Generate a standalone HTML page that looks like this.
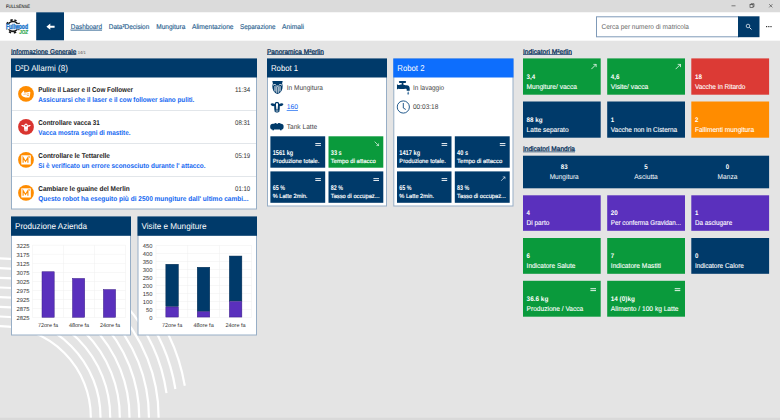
<!DOCTYPE html>
<html>
<head>
<meta charset="utf-8">
<title>FULLSENSE</title>
<style>
*{box-sizing:border-box;margin:0;padding:0}
html,body{width:780px;height:420px;overflow:hidden}
body{position:relative;background:#e4e4e4;font-family:"Liberation Sans",sans-serif;color:#222}
svg text{font-family:"Liberation Sans",sans-serif}
#cv{position:absolute;left:0;top:0;display:block}
</style>
</head>
<body>
<svg id="cv" width="780" height="420" viewBox="0 0 780 420">
<rect x="0" y="0" width="780" height="420" fill="#e4e4e4"/>
<g><g fill="none" stroke="#fff" stroke-width="2.2"><circle cx="0" cy="417" r="90.8"/><circle cx="0" cy="417" r="100.5"/><circle cx="0" cy="417" r="110.2"/><circle cx="0" cy="417" r="119.8"/><circle cx="0" cy="417" r="129.5"/><circle cx="0" cy="417" r="139.2"/><circle cx="0" cy="417" r="148.9"/><circle cx="0" cy="417" r="158.6"/><path d="M 126.0 305.6 A 168.2 168.2 0 0 1 166.5 393.2"/><path d="M 140.0 307.7 A 177.6 177.6 0 0 1 175.4 389.0"/><path d="M 140.0 292.4 A 187.4 187.4 0 0 1 184.8 385.7"/></g></g>
<rect x="0.00" y="417.70" width="780.00" height="2.30" fill="#d9d9d9"/>
<rect x="0.00" y="0.00" width="780.00" height="12.30" fill="#dbdbdb"/>
<svg x="725" y="0" width="55" height="12" viewBox="0 0 55 12"><g fill="none" stroke="#333" stroke-width=".6"><path d="M6.5 5.8h4"/><rect x="25" y="4.6" width="3" height="3"/><path d="M26 4.6v-.9h3v3h-1"/><path d="M44.2 4.2l3.2 3.2M47.4 4.2l-3.2 3.2"/></g></svg>
<rect x="0.00" y="12.30" width="780.00" height="28.40" fill="#fff"/>
<svg x="2" y="14" width="32" height="24" viewBox="0 0 32 24">
<circle cx="11" cy="12.4" r="4.9" fill="none" stroke="#161616" stroke-width="1.7"/>
<circle cx="11" cy="12.4" r="6.5" fill="none" stroke="#161616" stroke-width="1.7" stroke-dasharray="2.3 2.805" transform="rotate(12.3 11 12.4) rotate(-90 11 12.4)"/>
<rect x="3" y="9.9" width="24" height="5.4" fill="#fff"/>
<text x="4" y="14.7" font-size="6.6" font-weight="bold" fill="#1f78cc" stroke="#1f78cc" stroke-width=".4" textLength="22" lengthAdjust="spacingAndGlyphs">Fullwood</text>
<text x="17.2" y="19.6" font-size="5.4" font-weight="bold" font-style="italic" fill="#2fa84f" stroke="#2fa84f" stroke-width=".2" textLength="8.8" lengthAdjust="spacingAndGlyphs">JOZ</text></svg>
<rect x="36.20" y="12.30" width="27.80" height="28.00" fill="#003a6a"/>
<svg x="45.4" y="22.2" width="10" height="9" viewBox="0 0 10 9"><path d="M1 4.5 L4.9 1.4 V3.5 H9.2 V5.5 H4.9 V7.6 Z" fill="#fff"/></svg>
<rect x="596.50" y="16.80" width="142.00" height="20.00" fill="#fff" stroke="#7f9ab8" stroke-width="1"/>
<rect x="738.00" y="16.30" width="21.50" height="20.90" fill="#003a6a"/>
<svg x="745" y="23" width="8" height="8" viewBox="0 0 8 8"><circle cx="3" cy="3" r="1.8" fill="none" stroke="#e8eef4" stroke-width=".75"/><path d="M4.4 4.4L6.5 6.5" stroke="#e8eef4" stroke-width="1"/></svg>
<rect x="766.00" y="26.00" width="1.20" height="1.20" fill="#333"/>
<rect x="768.20" y="26.00" width="1.20" height="1.20" fill="#333"/>
<rect x="770.40" y="26.00" width="1.20" height="1.20" fill="#333"/>
<rect x="11.00" y="54.15" width="65.30" height="0.70" fill="#0d3a66"/>
<rect x="267.00" y="54.15" width="56.80" height="0.70" fill="#0d3a66"/>
<rect x="523.00" y="54.15" width="49.00" height="0.70" fill="#0d3a66"/>
<rect x="523.00" y="151.55" width="52.00" height="0.70" fill="#0d3a66"/>
<rect x="11.50" y="59.00" width="245.00" height="150.00" fill="#fff" stroke="#97aec6" stroke-width="1"/>
<rect x="11.00" y="58.50" width="246.00" height="19.00" fill="#003a6a"/>
<rect x="12.00" y="110.00" width="244.00" height="1.00" fill="#e2e6ea"/>
<rect x="12.00" y="143.00" width="244.00" height="1.00" fill="#e2e6ea"/>
<rect x="12.00" y="176.00" width="244.00" height="1.00" fill="#e2e6ea"/>
<svg x="18" y="85.9" width="16" height="16" viewBox="0 0 16 16"><circle cx="8" cy="8" r="7.9" fill="#ff8c00"/>
<path d="M3.6 7.2C4.4 6.2 5 5.4 5.6 4.8C6 4.6 6.3 4.9 6.2 5.4L5.9 6.6C7.6 6.8 9.4 6.6 11.2 5.9C11.9 5.7 12.4 6.1 12.3 6.8C12.2 8.6 11.9 10.2 11.4 11.5C9.6 11.8 7.4 11.6 5.4 10.8C4.2 10.3 3.4 9.4 3.2 8.4C3.2 7.9 3.3 7.5 3.6 7.2Z" fill="#fff"/>
<path d="M5.6 8.6C6.6 8 7.6 8 8.4 8.4M8.8 9.8C9.6 9.4 10.4 9.4 11 9.6M8.8 8.2C9.6 7.8 10.6 7.8 11.2 8" stroke="#ff8c00" stroke-width=".6" fill="none"/></svg>
<svg x="18" y="118.9" width="16" height="16" viewBox="0 0 16 16"><circle cx="8" cy="8" r="7.9" fill="#d9342f"/>
<path d="M3.2 6.4C4.2 5.9 5.2 6.1 6.2 6.6C6.5 5.3 7.1 4.6 8 4.6C8.9 4.6 9.5 5.3 9.8 6.6C10.8 6.1 11.8 5.9 12.8 6.4C12.4 7.5 11.2 8 10 7.8C10 9.4 9.8 10.8 9.5 12C9 12.6 7 12.6 6.5 12C6.2 10.8 6 9.4 6 7.8C4.8 8 3.6 7.5 3.2 6.4Z" fill="#fff"/>
<circle cx="8" cy="6.7" r=".9" fill="#d9342f"/><path d="M7.2 11.2H8.8" stroke="#d9342f" stroke-width=".5"/></svg>
<svg x="18" y="151.9" width="16" height="16" viewBox="0 0 16 16"><circle cx="8" cy="8" r="7.9" fill="#ff8c00"/><rect x="3.3" y="3.4" width="9.5" height="9.2" fill="#fff"/>
<path d="M5.1 10.9V5.6L7.5 9.6L9.9 5.6V10.9" fill="none" stroke="#ff8c00" stroke-width="1.15"/><rect x="10.9" y="4.4" width=".9" height="1.4" fill="#ff8c00"/></svg>
<svg x="18" y="184.9" width="16" height="16" viewBox="0 0 16 16"><circle cx="8" cy="8" r="7.9" fill="#ff8c00"/><rect x="3.3" y="3.4" width="9.5" height="9.2" fill="#fff"/>
<path d="M5.1 10.9V5.6L7.5 9.6L9.9 5.6V10.9" fill="none" stroke="#ff8c00" stroke-width="1.15"/><rect x="10.9" y="4.4" width=".9" height="1.4" fill="#ff8c00"/></svg>
<rect x="11.50" y="217.00" width="119.00" height="118.00" fill="#fff" stroke="#97aec6" stroke-width="1"/>
<rect x="11.00" y="216.50" width="120.00" height="19.30" fill="#003a6a"/>
<rect x="138.00" y="217.00" width="118.50" height="118.00" fill="#fff" stroke="#97aec6" stroke-width="1"/>
<rect x="137.50" y="216.50" width="119.50" height="19.30" fill="#003a6a"/>
<rect x="32.50" y="244.85" width="93.00" height="0.50" fill="#efefef"/>
<rect x="32.50" y="253.90" width="93.00" height="0.50" fill="#efefef"/>
<rect x="32.50" y="262.95" width="93.00" height="0.50" fill="#efefef"/>
<rect x="32.50" y="272.00" width="93.00" height="0.50" fill="#efefef"/>
<rect x="32.50" y="281.05" width="93.00" height="0.50" fill="#efefef"/>
<rect x="32.50" y="290.10" width="93.00" height="0.50" fill="#efefef"/>
<rect x="32.50" y="299.15" width="93.00" height="0.50" fill="#efefef"/>
<rect x="32.50" y="308.20" width="93.00" height="0.50" fill="#efefef"/>
<rect x="32.50" y="317.25" width="93.00" height="0.50" fill="#efefef"/>
<rect x="32.25" y="245.10" width="0.50" height="72.40" fill="#efefef"/>
<rect x="63.25" y="245.10" width="0.50" height="72.40" fill="#efefef"/>
<rect x="94.25" y="245.10" width="0.50" height="72.40" fill="#efefef"/>
<rect x="125.25" y="245.10" width="0.50" height="72.40" fill="#efefef"/>
<rect x="42.00" y="271.75" width="12.20" height="45.50" fill="#5a30bd" stroke="#3a1d86" stroke-width="0.5"/>
<rect x="72.50" y="278.45" width="12.20" height="38.80" fill="#5a30bd" stroke="#3a1d86" stroke-width="0.5"/>
<rect x="103.40" y="289.55" width="12.20" height="27.70" fill="#5a30bd" stroke="#3a1d86" stroke-width="0.5"/>
<rect x="156.00" y="245.05" width="95.50" height="0.50" fill="#efefef"/>
<rect x="156.00" y="253.05" width="95.50" height="0.50" fill="#efefef"/>
<rect x="156.00" y="261.05" width="95.50" height="0.50" fill="#efefef"/>
<rect x="156.00" y="269.05" width="95.50" height="0.50" fill="#efefef"/>
<rect x="156.00" y="277.05" width="95.50" height="0.50" fill="#efefef"/>
<rect x="156.00" y="285.05" width="95.50" height="0.50" fill="#efefef"/>
<rect x="156.00" y="293.05" width="95.50" height="0.50" fill="#efefef"/>
<rect x="156.00" y="301.05" width="95.50" height="0.50" fill="#efefef"/>
<rect x="156.00" y="309.05" width="95.50" height="0.50" fill="#efefef"/>
<rect x="156.00" y="317.05" width="95.50" height="0.50" fill="#efefef"/>
<rect x="155.75" y="245.30" width="0.50" height="72.00" fill="#efefef"/>
<rect x="187.58" y="245.30" width="0.50" height="72.00" fill="#efefef"/>
<rect x="219.42" y="245.30" width="0.50" height="72.00" fill="#efefef"/>
<rect x="251.25" y="245.30" width="0.50" height="72.00" fill="#efefef"/>
<rect x="165.85" y="264.25" width="12.50" height="42.20" fill="#003a6a" stroke="#002a50" stroke-width="0.5"/>
<rect x="165.85" y="306.95" width="12.50" height="10.10" fill="#5a30bd" stroke="#3a1d86" stroke-width="0.5"/>
<rect x="197.25" y="267.25" width="12.50" height="44.00" fill="#003a6a" stroke="#002a50" stroke-width="0.5"/>
<rect x="197.25" y="311.75" width="12.50" height="5.30" fill="#5a30bd" stroke="#3a1d86" stroke-width="0.5"/>
<rect x="229.35" y="256.05" width="12.50" height="44.90" fill="#003a6a" stroke="#002a50" stroke-width="0.5"/>
<rect x="229.35" y="301.45" width="12.50" height="15.60" fill="#5a30bd" stroke="#3a1d86" stroke-width="0.5"/>
<rect x="267.50" y="59.00" width="119.00" height="147.00" fill="#fff" stroke="#97aec6" stroke-width="1"/>
<rect x="267.00" y="58.50" width="120.00" height="19.00" fill="#003a6a"/>
<rect x="393.80" y="59.00" width="119.20" height="147.00" fill="#fff" stroke="#97aec6" stroke-width="1"/>
<rect x="393.30" y="58.50" width="120.20" height="19.00" fill="#0d6efd"/>
<svg x="271.5" y="80.5" width="12" height="14" viewBox="0 0 12 14">
<path d="M.8 .6H11.2L10.6 3.1C11.2 4.6 11.3 6.2 10.9 8C10.3 10.8 8.6 12.8 6 13.6C3.4 12.8 1.7 10.8 1.1 8C.7 6.2 .8 4.6 1.4 3.1Z" fill="#003a6a"/>
<path d="M1.5 4.9C2.5 3.7 3.7 3.7 4.7 4.9M7.3 4.9C8.3 3.7 9.5 3.7 10.5 4.9" fill="none" stroke="#fff" stroke-width="1"/>
<path d="M3.5 5.6V11M8.5 5.6V11" fill="none" stroke="#fff" stroke-width="1"/>
<path d="M5.2 6.2V12.3M6.8 6.2V12.3" fill="none" stroke="#fff" stroke-width=".8"/>
<path d="M4.9 5.6H7.1" stroke="#fff" stroke-width="1"/></svg>
<svg x="270.3" y="101.5" width="13.4" height="11.4" viewBox="0 0 13.4 11.4">
<path d="M.2 2.6C1 1.5 2.8 1.6 4.3 2.4C4.7 1 5.6 .2 6.7 .2C7.8 .2 8.7 1 9.1 2.4C10.6 1.6 12.4 1.5 13.2 2.6C12.8 4.3 11 5 9.5 4.6C9.6 6.6 9.4 8.6 9 10.3C8.2 11.3 5.2 11.3 4.4 10.3C4 8.6 3.8 6.6 3.9 4.6C2.4 5 .6 4.3 .2 2.6Z" fill="#003a6a"/>
<path d="M6.7 1.5C7.5 1.5 7.8 2.4 7.7 3.4C7.6 5 7.4 6.4 7.3 7.9H6.1C6 6.4 5.8 5 5.7 3.4C5.6 2.4 5.9 1.5 6.7 1.5Z" fill="#fff"/>
<path d="M5.4 9.5H8" stroke="#fff" stroke-width=".8"/></svg>
<svg x="270" y="122.9" width="14" height="8" viewBox="0 0 14 8">
<rect x=".2" y=".8" width="13.4" height="5.8" rx="2.6" fill="#003a6a"/><rect x="4.6" y=".2" width="1.8" height="1" fill="#003a6a"/><rect x="8" y=".2" width="2.4" height="1" fill="#003a6a"/>
<rect x="2.4" y="6" width="1.6" height="1.4" fill="#003a6a"/><rect x="10" y="6" width="1.6" height="1.4" fill="#003a6a"/></svg>
<svg x="396.7" y="80.9" width="14" height="14" viewBox="0 0 14 14">
<rect x="2.4" y=".2" width="6.8" height="1.8" rx=".3" fill="#003a6a"/><rect x="5" y="1.6" width="1.7" height="3" fill="#003a6a"/>
<path d="M.2 3.4L1.6 4.2C3 4 4 3.4 5.8 3.6C7.4 3.8 8.4 4.4 10 4.4C12.2 4.4 13 5.8 13 7.6V9.8H10V8.6C10 8 9.6 7.8 9 7.8C6.6 8 4 8.2 1.6 7.8L.2 8.6Z" fill="#003a6a"/>
<path d="M11.5 10.3C12.2 11.5 12.4 12.3 12.4 12.8A.9 .9 0 0 1 10.6 12.8C10.6 12.3 10.8 11.5 11.5 10.3Z" fill="#4f7ea8"/></svg>
<svg x="396.3" y="100" width="14" height="14" viewBox="0 0 14 14">
<circle cx="7" cy="7" r="6.1" fill="none" stroke="#245b8d" stroke-width="1"/><path d="M7 3V8L9.5 9.5" fill="none" stroke="#245b8d" stroke-width="1"/></svg>
<rect x="270.40" y="136.30" width="54.80" height="31.40" fill="#003a6a"/>
<rect x="315.30" y="143.00" width="5.60" height="1.00" fill="#fff" fill-opacity=".88"/>
<rect x="315.30" y="144.90" width="5.60" height="1.00" fill="#fff" fill-opacity=".88"/>
<rect x="328.50" y="136.30" width="54.80" height="31.40" fill="#0a9a3c"/>
<svg x="374.1" y="141.1" width="5.2" height="5.2" viewBox="0 0 6 6"><path d="M.6 .6L5.2 5.2M2.6 5.3H5.3V2.6" fill="none" stroke="#fff" stroke-width=".75"/></svg>
<rect x="270.40" y="171.40" width="54.80" height="31.40" fill="#003a6a"/>
<rect x="315.30" y="178.10" width="5.60" height="1.00" fill="#fff" fill-opacity=".88"/>
<rect x="315.30" y="180.00" width="5.60" height="1.00" fill="#fff" fill-opacity=".88"/>
<rect x="328.50" y="171.40" width="54.80" height="31.40" fill="#003a6a"/>
<rect x="373.40" y="178.10" width="5.60" height="1.00" fill="#fff" fill-opacity=".88"/>
<rect x="373.40" y="180.00" width="5.60" height="1.00" fill="#fff" fill-opacity=".88"/>
<rect x="397.00" y="136.30" width="54.50" height="31.40" fill="#003a6a"/>
<rect x="441.60" y="143.00" width="5.60" height="1.00" fill="#fff" fill-opacity=".88"/>
<rect x="441.60" y="144.90" width="5.60" height="1.00" fill="#fff" fill-opacity=".88"/>
<rect x="454.80" y="136.30" width="54.90" height="31.40" fill="#003a6a"/>
<rect x="499.80" y="143.00" width="5.60" height="1.00" fill="#fff" fill-opacity=".88"/>
<rect x="499.80" y="144.90" width="5.60" height="1.00" fill="#fff" fill-opacity=".88"/>
<rect x="397.00" y="171.40" width="54.50" height="31.40" fill="#003a6a"/>
<rect x="441.60" y="178.10" width="5.60" height="1.00" fill="#fff" fill-opacity=".88"/>
<rect x="441.60" y="180.00" width="5.60" height="1.00" fill="#fff" fill-opacity=".88"/>
<rect x="454.80" y="171.40" width="54.90" height="31.40" fill="#003a6a"/>
<svg x="500.5" y="176.2" width="5.2" height="5.2" viewBox="0 0 6 6"><path d="M.6 5.4L5.2 .8M2.6 .7H5.3V3.4" fill="none" stroke="#fff" stroke-width=".75"/></svg>
<rect x="523.00" y="58.40" width="77.70" height="36.30" fill="#0a9a3c"/>
<svg x="590.7" y="63.6" width="6.2" height="6.2" viewBox="0 0 6 6"><path d="M.6 5.4L5.2 .8M2.6 .7H5.3V3.4" fill="none" stroke="#fff" stroke-width=".75"/></svg>
<rect x="607.20" y="58.40" width="77.80" height="36.30" fill="#0a9a3c"/>
<svg x="675.0" y="63.6" width="6.2" height="6.2" viewBox="0 0 6 6"><path d="M.6 5.4L5.2 .8M2.6 .7H5.3V3.4" fill="none" stroke="#fff" stroke-width=".75"/></svg>
<rect x="691.30" y="58.40" width="77.80" height="36.30" fill="#dc3a35"/>
<rect x="523.00" y="101.50" width="77.70" height="36.20" fill="#003a6a"/>
<rect x="607.20" y="101.50" width="77.80" height="36.20" fill="#003a6a"/>
<rect x="691.30" y="101.50" width="77.80" height="36.20" fill="#ff8c00"/>
<rect x="523.00" y="155.70" width="246.10" height="32.60" fill="#003a6a"/>
<rect x="523.00" y="195.30" width="77.70" height="35.50" fill="#5a30bd"/>
<rect x="607.20" y="195.30" width="77.80" height="35.50" fill="#5a30bd"/>
<rect x="691.30" y="195.30" width="77.80" height="35.50" fill="#5a30bd"/>
<rect x="523.00" y="238.00" width="77.70" height="35.80" fill="#0a9a3c"/>
<rect x="607.20" y="238.00" width="77.80" height="35.80" fill="#0a9a3c"/>
<rect x="691.30" y="238.00" width="77.80" height="35.80" fill="#003a6a"/>
<rect x="523.00" y="280.80" width="77.70" height="35.90" fill="#0a9a3c"/>
<rect x="590.40" y="288.20" width="5.60" height="1.00" fill="#fff" fill-opacity=".88"/>
<rect x="590.40" y="290.10" width="5.60" height="1.00" fill="#fff" fill-opacity=".88"/>
<rect x="607.20" y="280.80" width="77.80" height="35.90" fill="#0a9a3c"/>
<rect x="674.70" y="288.20" width="5.60" height="1.00" fill="#fff" fill-opacity=".88"/>
<rect x="674.70" y="290.10" width="5.60" height="1.00" fill="#fff" fill-opacity=".88"/>
<g id="tx" text-rendering="geometricPrecision">
<text x="6.00" y="8.00" font-size="4.6" fill="#222" textLength="24.00" lengthAdjust="spacingAndGlyphs" stroke="#222" stroke-width=".08">FULLSENSE</text>
<text x="70.80" y="28.80" font-size="7.0" fill="#2a5f8f" text-decoration="underline" textLength="31.20" lengthAdjust="spacingAndGlyphs" stroke="#2a5f8f" stroke-width=".15">Dashboard</text>
<text x="108.80" y="28.80" font-size="7.0" fill="#2a5f8f" textLength="40.50" lengthAdjust="spacingAndGlyphs" stroke="#2a5f8f" stroke-width=".15">Data²Decision</text>
<text x="156.30" y="28.80" font-size="7.0" fill="#2a5f8f" textLength="29.00" lengthAdjust="spacingAndGlyphs" stroke="#2a5f8f" stroke-width=".15">Mungitura</text>
<text x="192.00" y="28.80" font-size="7.0" fill="#2a5f8f" textLength="41.50" lengthAdjust="spacingAndGlyphs" stroke="#2a5f8f" stroke-width=".15">Alimentazione</text>
<text x="240.00" y="28.80" font-size="7.0" fill="#2a5f8f" textLength="35.50" lengthAdjust="spacingAndGlyphs" stroke="#2a5f8f" stroke-width=".15">Separazione</text>
<text x="282.00" y="28.80" font-size="7.0" fill="#2a5f8f" textLength="22.00" lengthAdjust="spacingAndGlyphs" stroke="#2a5f8f" stroke-width=".15">Animali</text>
<text x="601.50" y="28.60" font-size="6.9" fill="#666" textLength="87.50" lengthAdjust="spacingAndGlyphs">Cerca per numero di matricola</text>
<text x="11.00" y="53.70" font-size="6.8" fill="#0a335c" textLength="65.30" lengthAdjust="spacingAndGlyphs" stroke="#0a335c" stroke-width=".3">Informazione Generale</text>
<text x="77.80" y="53.80" font-size="4.4" fill="#4a4a4a" textLength="8.00" lengthAdjust="spacingAndGlyphs">14/1</text>
<text x="267.00" y="53.70" font-size="6.8" fill="#0a335c" textLength="56.80" lengthAdjust="spacingAndGlyphs" stroke="#0a335c" stroke-width=".3">Panoramica M²erlin</text>
<text x="523.00" y="53.70" font-size="6.8" fill="#0a335c" textLength="49.00" lengthAdjust="spacingAndGlyphs" stroke="#0a335c" stroke-width=".3">Indicatori M²erlin</text>
<text x="523.00" y="151.10" font-size="6.8" fill="#0a335c" textLength="52.00" lengthAdjust="spacingAndGlyphs" stroke="#0a335c" stroke-width=".3">Indicatori Mandria</text>
<text x="15.00" y="71.10" font-size="8.5" fill="#fff" textLength="53.00" lengthAdjust="spacingAndGlyphs">D²D Allarmi (8)</text>
<text x="38.30" y="92.00" font-size="7.0" fill="#222" font-weight="bold" textLength="94.70" lengthAdjust="spacingAndGlyphs">Pulire il Laser e il Cow Follower</text>
<text x="38.30" y="102.00" font-size="7.0" fill="#1266f1" font-weight="bold" textLength="156.00" lengthAdjust="spacingAndGlyphs">Assicurarsi che il laser e il cow follower siano puliti.</text>
<text x="250.20" y="92.00" font-size="6.8" fill="#333" text-anchor="end" textLength="15.10" lengthAdjust="spacingAndGlyphs">11:34</text>
<text x="38.30" y="125.00" font-size="7.0" fill="#222" font-weight="bold" textLength="61.50" lengthAdjust="spacingAndGlyphs">Controllare vacca 31</text>
<text x="38.30" y="135.00" font-size="7.0" fill="#1266f1" font-weight="bold" textLength="92.20" lengthAdjust="spacingAndGlyphs">Vacca mostra segni di mastite.</text>
<text x="250.20" y="125.00" font-size="6.8" fill="#333" text-anchor="end" textLength="15.10" lengthAdjust="spacingAndGlyphs">08:31</text>
<text x="38.30" y="158.00" font-size="7.0" fill="#222" font-weight="bold" textLength="71.60" lengthAdjust="spacingAndGlyphs">Controllare le Tettarelle</text>
<text x="38.30" y="168.00" font-size="7.0" fill="#1266f1" font-weight="bold" textLength="167.20" lengthAdjust="spacingAndGlyphs">Si è verificato un errore sconosciuto durante l' attacco.</text>
<text x="250.20" y="158.00" font-size="6.8" fill="#333" text-anchor="end" textLength="15.10" lengthAdjust="spacingAndGlyphs">05:19</text>
<text x="38.30" y="191.00" font-size="7.0" fill="#222" font-weight="bold" textLength="91.40" lengthAdjust="spacingAndGlyphs">Cambiare le guaine del Merlin</text>
<text x="38.30" y="201.00" font-size="7.0" fill="#1266f1" font-weight="bold" textLength="210.20" lengthAdjust="spacingAndGlyphs">Questo robot ha eseguito più di 2500 mungiture dall' ultimo cambi...</text>
<text x="250.20" y="191.00" font-size="6.8" fill="#333" text-anchor="end" textLength="15.10" lengthAdjust="spacingAndGlyphs">01:10</text>
<text x="15.00" y="229.10" font-size="8.5" fill="#fff" textLength="72.00" lengthAdjust="spacingAndGlyphs">Produzione Azienda</text>
<text x="141.50" y="229.10" font-size="8.5" fill="#fff" textLength="65.00" lengthAdjust="spacingAndGlyphs">Visite e Mungiture</text>
<text x="29.40" y="247.50" font-size="5.7" fill="#333" text-anchor="end" textLength="12.90" lengthAdjust="spacingAndGlyphs">3225</text>
<text x="29.40" y="256.55" font-size="5.7" fill="#333" text-anchor="end" textLength="12.90" lengthAdjust="spacingAndGlyphs">3175</text>
<text x="29.40" y="265.60" font-size="5.7" fill="#333" text-anchor="end" textLength="12.90" lengthAdjust="spacingAndGlyphs">3125</text>
<text x="29.40" y="274.65" font-size="5.7" fill="#333" text-anchor="end" textLength="12.90" lengthAdjust="spacingAndGlyphs">3075</text>
<text x="29.40" y="283.70" font-size="5.7" fill="#333" text-anchor="end" textLength="12.90" lengthAdjust="spacingAndGlyphs">3025</text>
<text x="29.40" y="292.75" font-size="5.7" fill="#333" text-anchor="end" textLength="12.90" lengthAdjust="spacingAndGlyphs">2975</text>
<text x="29.40" y="301.80" font-size="5.7" fill="#333" text-anchor="end" textLength="12.90" lengthAdjust="spacingAndGlyphs">2925</text>
<text x="29.40" y="310.85" font-size="5.7" fill="#333" text-anchor="end" textLength="12.90" lengthAdjust="spacingAndGlyphs">2875</text>
<text x="29.40" y="319.90" font-size="5.7" fill="#333" text-anchor="end" textLength="12.90" lengthAdjust="spacingAndGlyphs">2825</text>
<text x="48.00" y="327.00" font-size="5.6" fill="#333" text-anchor="middle" textLength="20.20" lengthAdjust="spacingAndGlyphs">72ore fa</text>
<text x="79.00" y="327.00" font-size="5.6" fill="#333" text-anchor="middle" textLength="20.20" lengthAdjust="spacingAndGlyphs">48ore fa</text>
<text x="110.00" y="327.00" font-size="5.6" fill="#333" text-anchor="middle" textLength="20.20" lengthAdjust="spacingAndGlyphs">24ore fa</text>
<text x="152.40" y="247.80" font-size="5.7" fill="#333" text-anchor="end" textLength="9.66" lengthAdjust="spacingAndGlyphs">450</text>
<text x="152.40" y="255.80" font-size="5.7" fill="#333" text-anchor="end" textLength="9.66" lengthAdjust="spacingAndGlyphs">400</text>
<text x="152.40" y="263.80" font-size="5.7" fill="#333" text-anchor="end" textLength="9.66" lengthAdjust="spacingAndGlyphs">350</text>
<text x="152.40" y="271.80" font-size="5.7" fill="#333" text-anchor="end" textLength="9.66" lengthAdjust="spacingAndGlyphs">300</text>
<text x="152.40" y="279.80" font-size="5.7" fill="#333" text-anchor="end" textLength="9.66" lengthAdjust="spacingAndGlyphs">250</text>
<text x="152.40" y="287.80" font-size="5.7" fill="#333" text-anchor="end" textLength="9.66" lengthAdjust="spacingAndGlyphs">200</text>
<text x="152.40" y="295.80" font-size="5.7" fill="#333" text-anchor="end" textLength="9.66" lengthAdjust="spacingAndGlyphs">150</text>
<text x="152.40" y="303.80" font-size="5.7" fill="#333" text-anchor="end" textLength="9.66" lengthAdjust="spacingAndGlyphs">100</text>
<text x="152.40" y="311.80" font-size="5.7" fill="#333" text-anchor="end" textLength="6.44" lengthAdjust="spacingAndGlyphs">50</text>
<text x="152.40" y="319.80" font-size="5.7" fill="#333" text-anchor="end" textLength="3.22" lengthAdjust="spacingAndGlyphs">0</text>
<text x="172.10" y="327.00" font-size="5.6" fill="#333" text-anchor="middle" textLength="20.20" lengthAdjust="spacingAndGlyphs">72ore fa</text>
<text x="203.60" y="327.00" font-size="5.6" fill="#333" text-anchor="middle" textLength="20.20" lengthAdjust="spacingAndGlyphs">48ore fa</text>
<text x="235.50" y="327.00" font-size="5.6" fill="#333" text-anchor="middle" textLength="20.20" lengthAdjust="spacingAndGlyphs">24ore fa</text>
<text x="271.00" y="71.10" font-size="8.5" fill="#fff" textLength="27.20" lengthAdjust="spacingAndGlyphs">Robot 1</text>
<text x="397.30" y="71.10" font-size="8.5" fill="#fff" textLength="27.20" lengthAdjust="spacingAndGlyphs">Robot 2</text>
<text x="286.70" y="90.00" font-size="6.9" fill="#444" textLength="36.30" lengthAdjust="spacingAndGlyphs">In Mungitura</text>
<text x="286.70" y="109.20" font-size="6.9" fill="#1266f1" text-decoration="underline" textLength="11.30" lengthAdjust="spacingAndGlyphs">160</text>
<text x="286.70" y="128.80" font-size="6.9" fill="#444" textLength="30.50" lengthAdjust="spacingAndGlyphs">Tank Latte</text>
<text x="413.00" y="90.00" font-size="6.9" fill="#444" textLength="31.20" lengthAdjust="spacingAndGlyphs">In lavaggio</text>
<text x="413.00" y="109.20" font-size="6.9" fill="#444" textLength="25.30" lengthAdjust="spacingAndGlyphs">00:03:18</text>
<text x="272.70" y="155.10" font-size="6.8" fill="#fff" font-weight="bold" textLength="20.50" lengthAdjust="spacingAndGlyphs">1561 kg</text>
<text x="272.70" y="163.20" font-size="6.0" fill="#fff" textLength="46.70" lengthAdjust="spacingAndGlyphs" stroke="#fff" stroke-width=".16">Produzione totale.</text>
<text x="330.80" y="155.10" font-size="6.8" fill="#fff" font-weight="bold" textLength="10.90" lengthAdjust="spacingAndGlyphs">33 s</text>
<text x="330.80" y="163.20" font-size="6.0" fill="#fff" textLength="45.00" lengthAdjust="spacingAndGlyphs" stroke="#fff" stroke-width=".16">Tempo di attacco</text>
<text x="272.70" y="190.20" font-size="6.8" fill="#fff" font-weight="bold" textLength="12.20" lengthAdjust="spacingAndGlyphs">65 %</text>
<text x="272.70" y="198.30" font-size="6.0" fill="#fff" textLength="34.70" lengthAdjust="spacingAndGlyphs" stroke="#fff" stroke-width=".16">% Latte 2min.</text>
<text x="330.80" y="190.20" font-size="6.8" fill="#fff" font-weight="bold" textLength="12.20" lengthAdjust="spacingAndGlyphs">82 %</text>
<text x="330.80" y="198.30" font-size="6.0" fill="#fff" textLength="48.70" lengthAdjust="spacingAndGlyphs" stroke="#fff" stroke-width=".16">Tasso di occupaz...</text>
<text x="399.30" y="155.10" font-size="6.8" fill="#fff" font-weight="bold" textLength="20.80" lengthAdjust="spacingAndGlyphs">1417 kg</text>
<text x="399.30" y="163.20" font-size="6.0" fill="#fff" textLength="46.60" lengthAdjust="spacingAndGlyphs" stroke="#fff" stroke-width=".16">Produzione totale.</text>
<text x="457.10" y="155.10" font-size="6.8" fill="#fff" font-weight="bold" textLength="10.90" lengthAdjust="spacingAndGlyphs">40 s</text>
<text x="457.10" y="163.20" font-size="6.0" fill="#fff" textLength="45.20" lengthAdjust="spacingAndGlyphs" stroke="#fff" stroke-width=".16">Tempo di attacco</text>
<text x="399.30" y="190.20" font-size="6.8" fill="#fff" font-weight="bold" textLength="12.20" lengthAdjust="spacingAndGlyphs">65 %</text>
<text x="399.30" y="198.30" font-size="6.0" fill="#fff" textLength="34.70" lengthAdjust="spacingAndGlyphs" stroke="#fff" stroke-width=".16">% Latte 2min.</text>
<text x="457.10" y="190.20" font-size="6.8" fill="#fff" font-weight="bold" textLength="12.20" lengthAdjust="spacingAndGlyphs">83 %</text>
<text x="457.10" y="198.30" font-size="6.0" fill="#fff" textLength="48.80" lengthAdjust="spacingAndGlyphs" stroke="#fff" stroke-width=".16">Tasso di occupaz...</text>
<text x="526.60" y="78.80" font-size="6.7" fill="#fff" font-weight="bold" textLength="8.60" lengthAdjust="spacingAndGlyphs">3,4</text>
<text x="526.60" y="88.90" font-size="6.9" fill="#fff" textLength="50.30" lengthAdjust="spacingAndGlyphs" stroke="#fff" stroke-width=".1">Mungiture/ vacca</text>
<text x="610.80" y="78.80" font-size="6.7" fill="#fff" font-weight="bold" textLength="8.60" lengthAdjust="spacingAndGlyphs">4,6</text>
<text x="610.80" y="88.90" font-size="6.9" fill="#fff" textLength="37.50" lengthAdjust="spacingAndGlyphs" stroke="#fff" stroke-width=".1">Visite/ vacca</text>
<text x="694.90" y="78.80" font-size="6.7" fill="#fff" font-weight="bold" textLength="7.00" lengthAdjust="spacingAndGlyphs">18</text>
<text x="694.90" y="88.90" font-size="6.9" fill="#fff" textLength="50.50" lengthAdjust="spacingAndGlyphs" stroke="#fff" stroke-width=".1">Vacche in Ritardo</text>
<text x="526.60" y="121.90" font-size="6.7" fill="#fff" font-weight="bold" textLength="16.00" lengthAdjust="spacingAndGlyphs">88 kg</text>
<text x="526.60" y="132.00" font-size="6.9" fill="#fff" textLength="42.00" lengthAdjust="spacingAndGlyphs" stroke="#fff" stroke-width=".1">Latte separato</text>
<text x="610.80" y="121.90" font-size="6.7" fill="#fff" font-weight="bold" textLength="3.40" lengthAdjust="spacingAndGlyphs">1</text>
<text x="610.80" y="132.00" font-size="6.9" fill="#fff" textLength="66.30" lengthAdjust="spacingAndGlyphs" stroke="#fff" stroke-width=".1">Vacche non in Cisterna</text>
<text x="694.90" y="121.90" font-size="6.7" fill="#fff" font-weight="bold" textLength="3.40" lengthAdjust="spacingAndGlyphs">2</text>
<text x="694.90" y="132.00" font-size="6.9" fill="#fff" textLength="59.20" lengthAdjust="spacingAndGlyphs" stroke="#fff" stroke-width=".1">Fallimenti mungitura</text>
<text x="564.20" y="169.30" font-size="6.7" fill="#fff" font-weight="bold" text-anchor="middle" textLength="6.80" lengthAdjust="spacingAndGlyphs">83</text>
<text x="564.20" y="178.80" font-size="7.0" fill="#fff" text-anchor="middle" textLength="29.10" lengthAdjust="spacingAndGlyphs">Mungitura</text>
<text x="646.00" y="169.30" font-size="6.7" fill="#fff" font-weight="bold" text-anchor="middle" textLength="3.40" lengthAdjust="spacingAndGlyphs">5</text>
<text x="646.00" y="178.80" font-size="7.0" fill="#fff" text-anchor="middle" textLength="23.60" lengthAdjust="spacingAndGlyphs">Asciutta</text>
<text x="727.50" y="169.30" font-size="6.7" fill="#fff" font-weight="bold" text-anchor="middle" textLength="3.40" lengthAdjust="spacingAndGlyphs">0</text>
<text x="727.50" y="178.80" font-size="7.0" fill="#fff" text-anchor="middle" textLength="19.80" lengthAdjust="spacingAndGlyphs">Manza</text>
<text x="526.60" y="215.40" font-size="6.7" fill="#fff" font-weight="bold" textLength="3.40" lengthAdjust="spacingAndGlyphs">4</text>
<text x="526.60" y="225.00" font-size="6.9" fill="#fff" textLength="22.70" lengthAdjust="spacingAndGlyphs" stroke="#fff" stroke-width=".1">Di parto</text>
<text x="610.80" y="215.40" font-size="6.7" fill="#fff" font-weight="bold" textLength="7.00" lengthAdjust="spacingAndGlyphs">20</text>
<text x="610.80" y="225.00" font-size="6.9" fill="#fff" textLength="70.30" lengthAdjust="spacingAndGlyphs" stroke="#fff" stroke-width=".1">Per conferma Gravidan...</text>
<text x="694.90" y="215.40" font-size="6.7" fill="#fff" font-weight="bold" textLength="3.40" lengthAdjust="spacingAndGlyphs">1</text>
<text x="694.90" y="225.00" font-size="6.9" fill="#fff" textLength="37.30" lengthAdjust="spacingAndGlyphs" stroke="#fff" stroke-width=".1">Da asciugare</text>
<text x="526.60" y="258.20" font-size="6.7" fill="#fff" font-weight="bold" textLength="3.40" lengthAdjust="spacingAndGlyphs">6</text>
<text x="526.60" y="267.50" font-size="6.9" fill="#fff" textLength="48.70" lengthAdjust="spacingAndGlyphs" stroke="#fff" stroke-width=".1">Indicatore Salute</text>
<text x="610.80" y="258.20" font-size="6.7" fill="#fff" font-weight="bold" textLength="3.40" lengthAdjust="spacingAndGlyphs">7</text>
<text x="610.80" y="267.50" font-size="6.9" fill="#fff" textLength="50.30" lengthAdjust="spacingAndGlyphs" stroke="#fff" stroke-width=".1">Indicatore Mastiti</text>
<text x="694.90" y="258.20" font-size="6.7" fill="#fff" font-weight="bold" textLength="3.40" lengthAdjust="spacingAndGlyphs">0</text>
<text x="694.90" y="267.50" font-size="6.9" fill="#fff" textLength="49.00" lengthAdjust="spacingAndGlyphs" stroke="#fff" stroke-width=".1">Indicatore Calore</text>
<text x="526.60" y="301.20" font-size="6.7" fill="#fff" font-weight="bold" textLength="21.70" lengthAdjust="spacingAndGlyphs">36.6 kg</text>
<text x="526.60" y="311.30" font-size="6.9" fill="#fff" textLength="56.70" lengthAdjust="spacingAndGlyphs" stroke="#fff" stroke-width=".1">Produzione / Vacca</text>
<text x="610.80" y="301.20" font-size="6.7" fill="#fff" font-weight="bold" textLength="24.00" lengthAdjust="spacingAndGlyphs">14 (0)kg</text>
<text x="610.80" y="311.30" font-size="6.9" fill="#fff" textLength="67.60" lengthAdjust="spacingAndGlyphs" stroke="#fff" stroke-width=".1">Alimento / 100 kg Latte</text>
</g>
</svg>
</body>
</html>
